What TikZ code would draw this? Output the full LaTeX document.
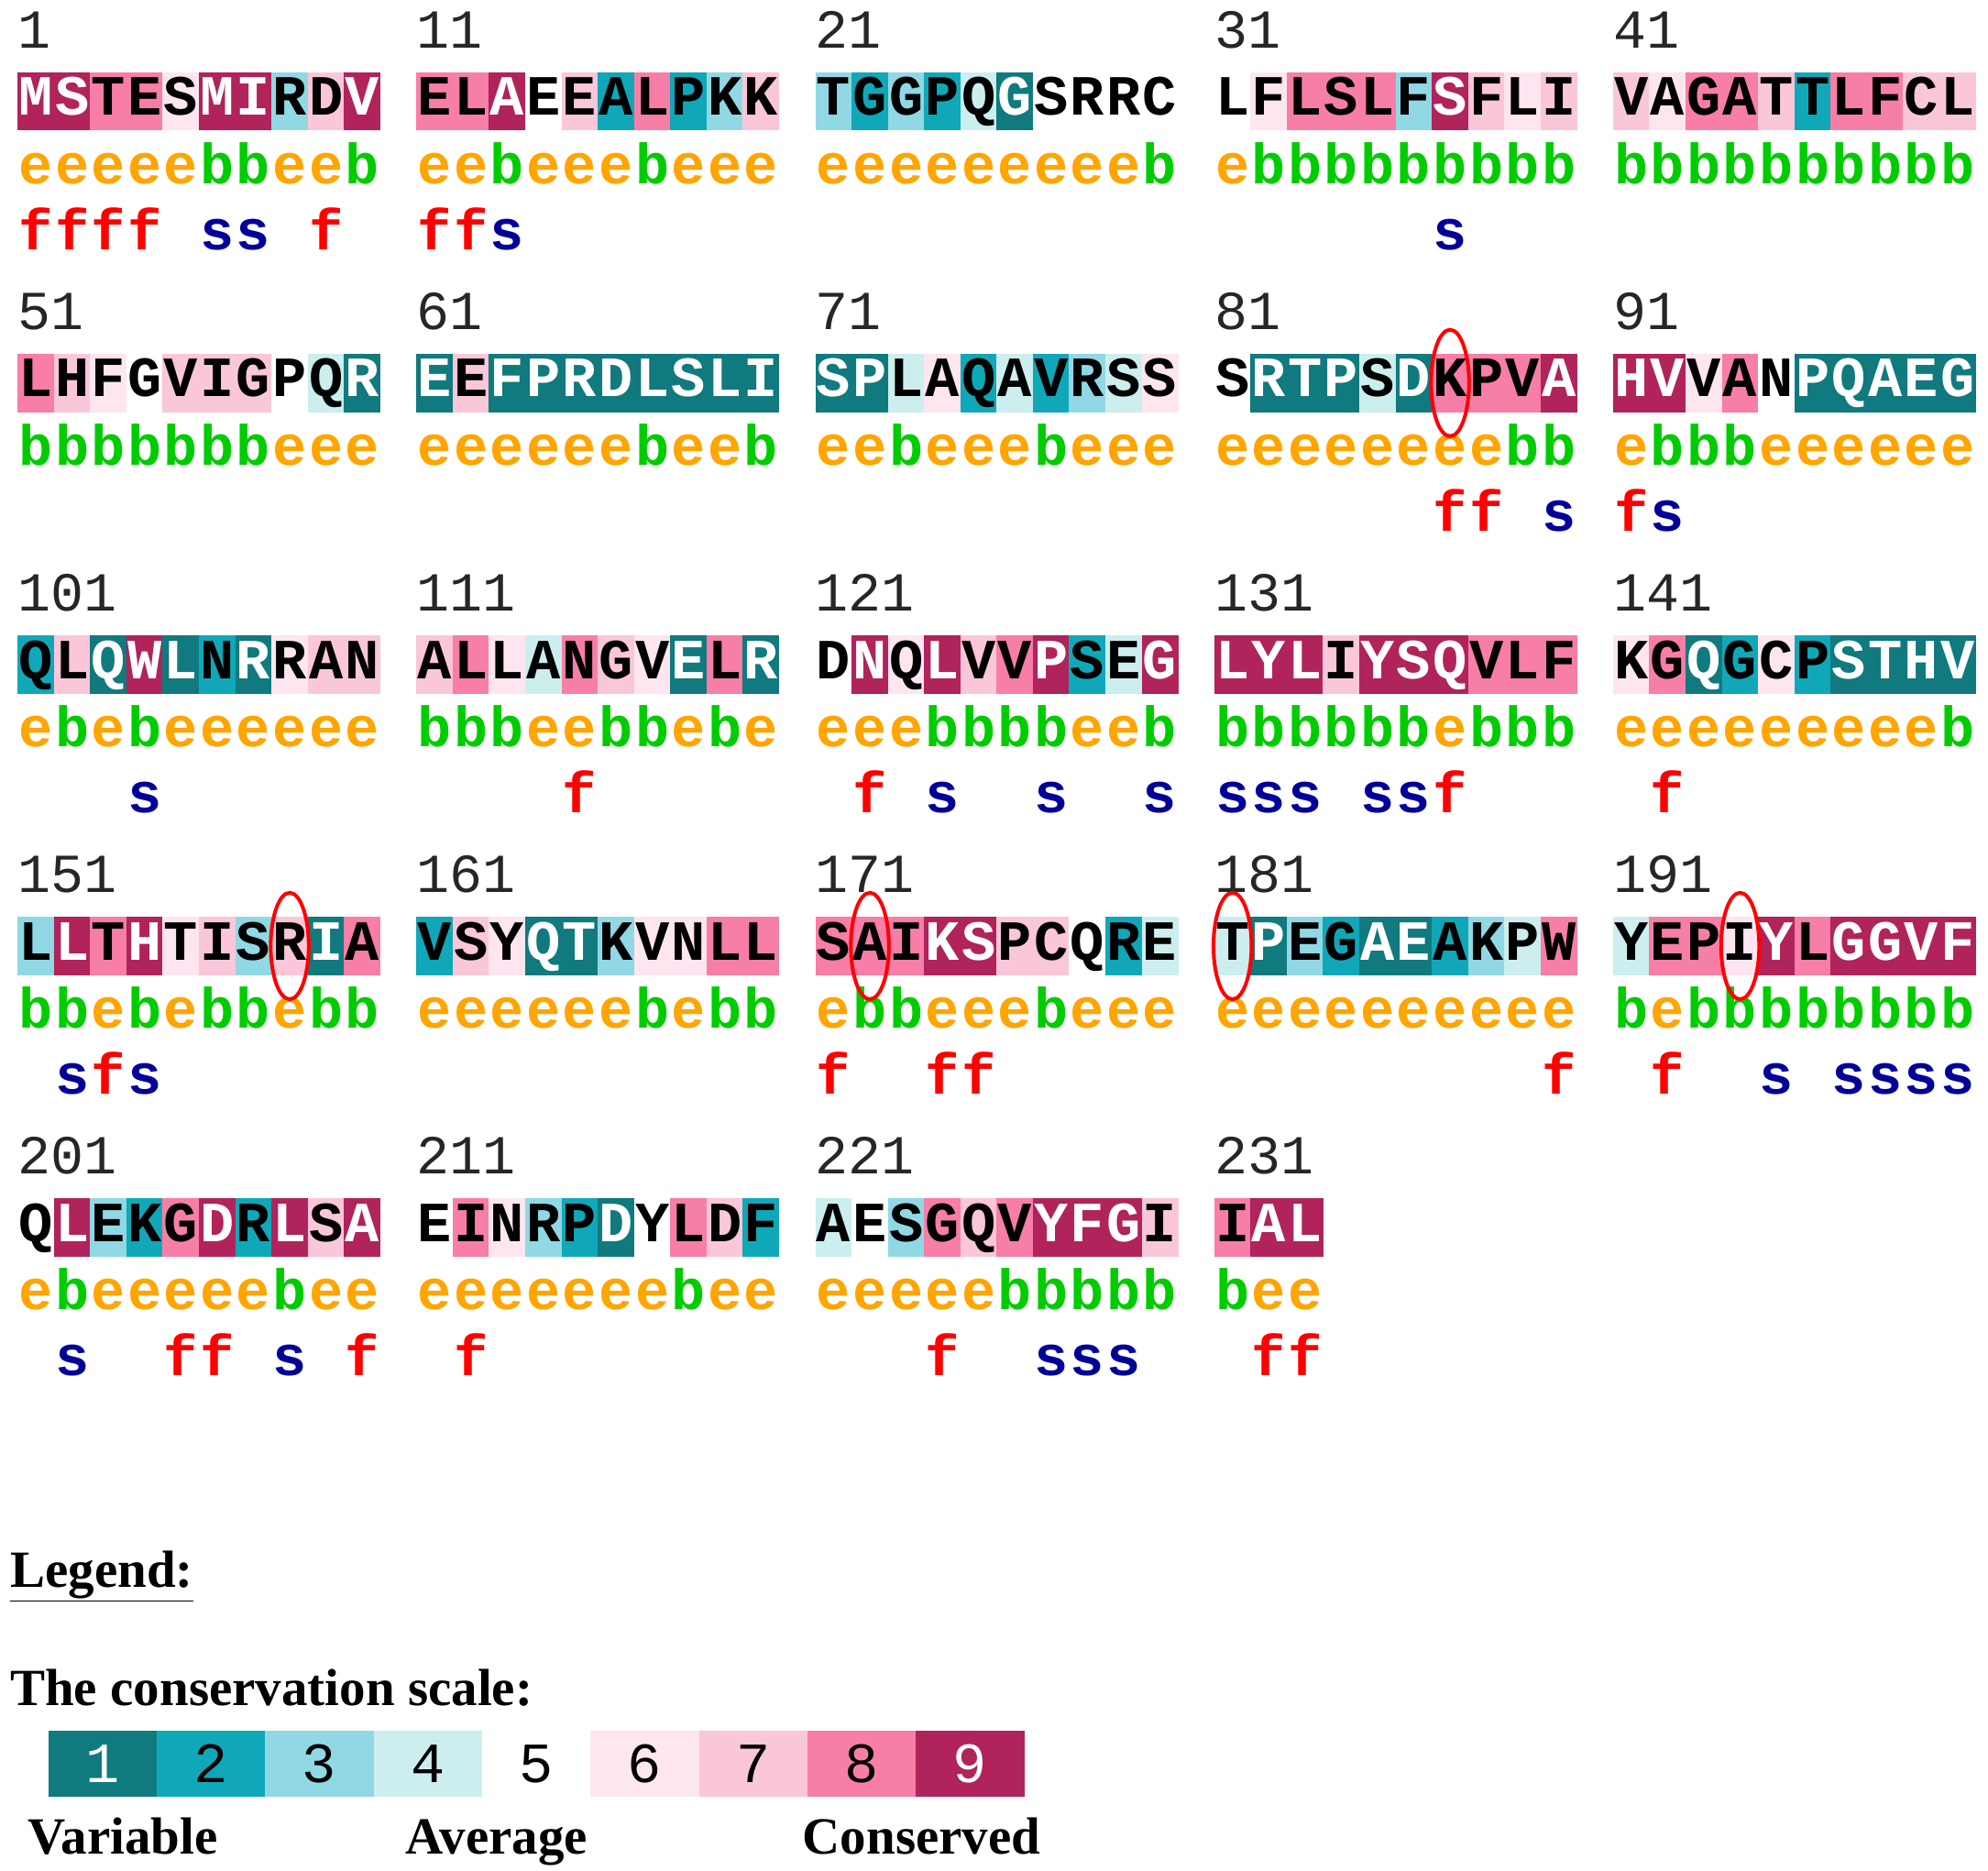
\documentclass[tikz,border=0pt]{standalone}
\usepackage{fontspec}
\usepackage{xstring}
\newfontfamily\monof{Liberation Mono}
\newfontfamily\seriff{Liberation Serif}
\definecolor{g1}{HTML}{107A7E}
\definecolor{g2}{HTML}{10A8B8}
\definecolor{g3}{HTML}{90D8E4}
\definecolor{g4}{HTML}{CCEEEE}
\definecolor{g5}{HTML}{FFFFFF}
\definecolor{g6}{HTML}{FDE6F0}
\definecolor{g7}{HTML}{FAC6DA}
\definecolor{g8}{HTML}{F77EA6}
\definecolor{g9}{HTML}{B0235B}
\colorlet{t1}{white}\colorlet{t2}{black}\colorlet{t3}{black}\colorlet{t4}{black}\colorlet{t5}{black}
\colorlet{t6}{black}\colorlet{t7}{black}\colorlet{t8}{black}\colorlet{t9}{white}
\definecolor{ce}{HTML}{FFA500}
\definecolor{cb}{HTML}{00CC00}
\definecolor{cf}{HTML}{FF0000}
\definecolor{cs}{HTML}{000099}
\begin{document}
\begin{tikzpicture}[x=1.3833pt,y=-1.3833pt,
  seq/.style={font=\monof\bfseries\fontsize{62}{62}\selectfont, anchor=base, inner sep=0pt},
  ann/.style={font=\monof\bfseries\fontsize{62}{62}\selectfont, anchor=base, inner sep=0pt},
  numlab/.style={font=\monof\fontsize{60}{60}\selectfont, anchor=base west, inner sep=0pt, text=black!85},
  ring/.style={draw=red, line width=4pt},
  legtxt/.style={font=\seriff\bfseries\fontsize{57}{57}\selectfont, anchor=base west, inner sep=0pt},
  legbox/.style={minimum width=118.4pt, minimum height=72pt, inner sep=0pt, font=\monof\fontsize{62}{62}\selectfont}]
\useasboundingbox[fill=white] (0,0) rectangle (1568,1475.4);
\foreach \sq/\gr/\eb/\fs [count=\b from 0] in {
 MSTESMIRDV/9988699379/eeeeebbeeb/ffff-ss-f-,
 ELAEEALPKK/8895728237/eebeeebeee/ffs-------,
 TGGPQGSRRC/3232415555/eeeeeeeeeb/----------,
 LFLSLFSFLI/5688839767/ebbbbbbbbb/------s---,
 VAGATTLFCL/7688728877/bbbbbbbbbb/----------,
 LHFGVIGPQR/8765777541/bbbbbbbeee/----------,
 EEFPRDLSLI/1711111111/eeeeeebeeb/----------,
 SPLAQAVRSS/1146242346/eebeeebeee/----------,
 SRTPSDKPVA/5111418889/eeeeeeeebb/------ff-s,
 HVVANPQAEG/9968511111/ebbbeeeeee/fs--------,
 QLQWLNRRAN/2719121677/ebebeeeeee/---s------,
 ALLANGVELR/7864876181/bbbeebbebe/----f-----,
 DNQLVVPSEG/5969789249/eeebbbbeeb/-f-s--s--s,
 LYLIYSQVLF/9997999888/bbbbbbebbb/sss-ssf---,
 KGQGCPSTHV/6812621111/eeeeeeeeeb/-f--------,
 LLTHTISRIA/3989673718/bbebebbebb/-sfs------,
 VSYQTKVNLL/2761136688/eeeeeebebb/----------,
 SAIKSPCQRE/8889977524/ebbeeebeee/f--ff-----,
 TPEGAEAKPW/4132112348/eeeeeeeeee/---------f,
 YEPIYLGGVF/4886989999/bebbbbbbbb/-f--s-ssss,
 QLEKGDRLSA/5932892979/ebeeeeebee/-s--ff-s-f,
 EINRPDYLDF/5863215872/eeeeeeebee/-f--------,
 AESGQVYFGI/4538789997/eeeeebbbbb/---f--sss-,
 IAL/899/bee/-ff}{
  \pgfmathtruncatemacro\row{int(\b/5)}
  \pgfmathtruncatemacro\col{mod(\b,5)}
  \pgfmathsetmacro\xo{14+\col*314.6}
  \pgfmathsetmacro\yo{\row*222}
  \pgfmathtruncatemacro\num{1+10*\b}
  \node[numlab] (n\num) at (\xo,\yo+38) {\num};
  \StrLen{\sq}[\len]
  \foreach \i in {1,...,\len}{
    \StrChar{\sq}{\i}[\chr]
    \StrChar{\gr}{\i}[\gg]
    \StrChar{\eb}{\i}[\ech]
    \StrChar{\fs}{\i}[\fch]
    \pgfmathtruncatemacro\rn{\num+\i-1}
    \pgfmathsetmacro\xc{\xo+(\i-0.5)*28.6}
    \fill[g\gg] (\xc-14.45,\yo+57) rectangle (\xc+14.45,\yo+103);
    \coordinate (c\rn) at (\xc,\yo+80);
    \node[seq,text=t\gg] (r\rn) at (\xc,\yo+91) {\chr};
    \node[ann,text=c\ech] (e\rn) at (\xc,\yo+145) {\ech};
    \if\fch-\else\node[ann,text=c\fch] (f\rn) at (\xc,\yo+197) {\fch};\fi
  }
}
\foreach \r in {87,158,172,181,194}
  \draw[ring] (c\r) ellipse [x radius=15, y radius=42];
\node[legtxt] (leg) at (8,1252) {\underline{Legend:}};
\node[legtxt] (scl) at (8,1345) {The conservation scale:};
\foreach \i in {1,...,9}
  \node[legbox, fill=g\i, text=t\i] (l\i) at ({38+(\i-0.5)*85.56},1391) {\i};
\node[legtxt] (var) at (22,1462) {Variable};
\node[legtxt] (avg) at (320,1462) {Average};
\node[legtxt] (con) at (633,1462) {Conserved};
\end{tikzpicture}
\end{document}
